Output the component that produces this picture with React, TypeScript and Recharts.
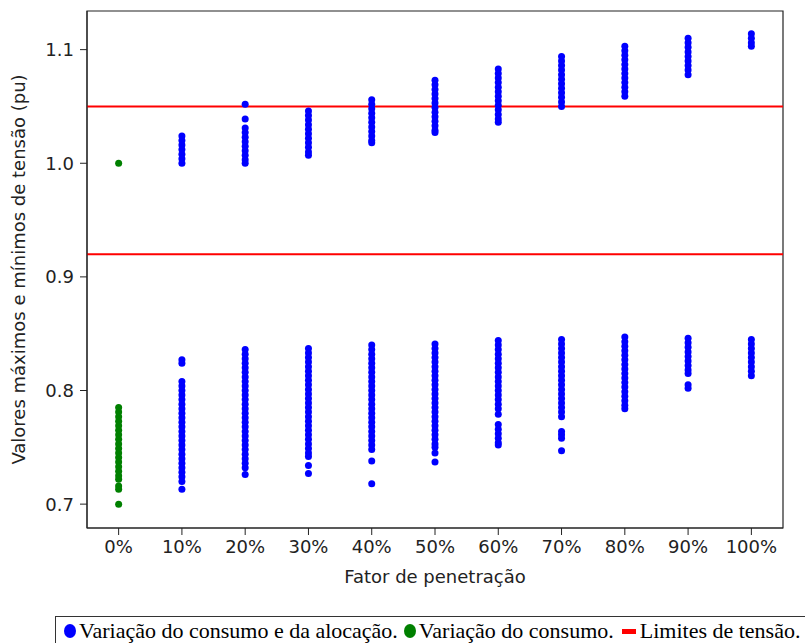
import React from "react";
import { ScatterChart, Scatter, XAxis, YAxis, ReferenceLine, ReferenceArea } from "recharts";

const categories = ["0%", "10%", "20%", "30%", "40%", "50%", "60%", "70%", "80%", "90%", "100%"];
const yTicks = [0.7, 0.8, 0.9, 1.0, 1.1];
const limits = [1.05, 0.92];

// variação do consumo (apenas 0%)
const greenUpper = [1.0];
const greenLower = [
  0.785, 0.781, 0.777, 0.773, 0.769, 0.765, 0.761, 0.757, 0.753, 0.749, 0.745, 0.741,
  0.737, 0.733, 0.729, 0.725, 0.722, 0.716, 0.713, 0.7,
];

// variação do consumo e da alocação, 10% .. 100%
const blueUpper: number[][] = [
  [1.024, 1.02, 1.016, 1.012, 1.008, 1.004, 1.0],
  [1.052, 1.039, 1.031, 1.027, 1.023, 1.019, 1.015, 1.011, 1.007, 1.003, 1.0],
  [1.046, 1.042, 1.038, 1.034, 1.03, 1.026, 1.022, 1.018, 1.014, 1.01, 1.007],
  [1.056, 1.052, 1.048, 1.044, 1.04, 1.036, 1.032, 1.028, 1.024, 1.02, 1.018],
  [1.073, 1.069, 1.065, 1.061, 1.057, 1.053, 1.049, 1.045, 1.041, 1.037, 1.033, 1.029, 1.027],
  [1.083, 1.079, 1.075, 1.071, 1.067, 1.063, 1.059, 1.055, 1.051, 1.047, 1.043, 1.039, 1.036],
  [1.094, 1.09, 1.086, 1.082, 1.078, 1.074, 1.07, 1.066, 1.062, 1.058, 1.054, 1.05],
  [1.103, 1.099, 1.095, 1.091, 1.087, 1.083, 1.079, 1.075, 1.071, 1.067, 1.063, 1.059],
  [1.11, 1.106, 1.102, 1.098, 1.094, 1.09, 1.086, 1.082, 1.078],
  [1.114, 1.11, 1.106, 1.103],
];

const blueLower: number[][] = [
  [0.827, 0.824, 0.808, 0.804, 0.8, 0.796, 0.792, 0.788, 0.784, 0.78, 0.776, 0.772, 0.768, 0.764,
    0.76, 0.756, 0.752, 0.748, 0.744, 0.74, 0.736, 0.732, 0.728, 0.724, 0.72, 0.713],
  [0.836, 0.832, 0.828, 0.824, 0.82, 0.816, 0.812, 0.808, 0.804, 0.8, 0.796, 0.792, 0.788, 0.784,
    0.78, 0.776, 0.772, 0.768, 0.764, 0.76, 0.756, 0.752, 0.748, 0.744, 0.74, 0.736, 0.732, 0.726],
  [0.837, 0.833, 0.829, 0.825, 0.821, 0.817, 0.813, 0.809, 0.805, 0.801, 0.797, 0.793, 0.789, 0.785,
    0.781, 0.777, 0.773, 0.769, 0.765, 0.761, 0.757, 0.753, 0.749, 0.745, 0.742, 0.734, 0.727],
  [0.84, 0.836, 0.832, 0.828, 0.824, 0.82, 0.816, 0.812, 0.808, 0.804, 0.8, 0.796, 0.792, 0.788,
    0.784, 0.78, 0.776, 0.772, 0.768, 0.764, 0.76, 0.756, 0.752, 0.748, 0.738, 0.718],
  [0.841, 0.837, 0.833, 0.829, 0.825, 0.821, 0.817, 0.813, 0.809, 0.805, 0.801, 0.797, 0.793, 0.789,
    0.785, 0.781, 0.777, 0.773, 0.769, 0.765, 0.761, 0.757, 0.753, 0.75, 0.745, 0.737],
  [0.844, 0.84, 0.836, 0.832, 0.828, 0.824, 0.82, 0.816, 0.812, 0.808, 0.804, 0.8, 0.796, 0.792,
    0.788, 0.784, 0.779, 0.77, 0.766, 0.762, 0.758, 0.754, 0.752],
  [0.845, 0.841, 0.837, 0.833, 0.829, 0.825, 0.821, 0.817, 0.813, 0.809, 0.805, 0.801, 0.797, 0.793,
    0.789, 0.785, 0.781, 0.777, 0.764, 0.761, 0.758, 0.747],
  [0.847, 0.843, 0.839, 0.835, 0.831, 0.827, 0.823, 0.819, 0.815, 0.811, 0.807, 0.803, 0.799, 0.795,
    0.791, 0.787, 0.784],
  [0.846, 0.842, 0.838, 0.834, 0.83, 0.826, 0.822, 0.818, 0.815, 0.805, 0.802],
  [0.845, 0.841, 0.837, 0.833, 0.829, 0.825, 0.821, 0.817, 0.813],
];

const greenData = [...greenUpper, ...greenLower].map((v) => ({ x: 0, y: v }));
const blueData = [...blueUpper, ...blueLower].flatMap((col, i) =>
  col.map((v) => ({ x: (i % blueUpper.length) + 1, y: v }))
);

const Y_MIN = 0.679;
const Y_MAX = 1.134;
const axisFont = { fontFamily: "DejaVu Sans", fontSize: 18, fill: "#222" };

const dot = (color: string) => (props: any) =>
  <circle cx={props.cx} cy={props.cy} r={3.5} fill={color} />;

export default function App() {
  return (
    <div style={{ position: "absolute", left: 0, top: 0, width: 805, height: 643, background: "#fff" }}>
      <ScatterChart width={805} height={643} margin={{ top: 11, right: 22, bottom: 55, left: 0 }}>
        <XAxis
          type="number"
          dataKey="x"
          domain={[-0.5, 10.5]}
          ticks={categories.map((_, i) => i)}
          tickFormatter={(v) => categories[v]}
          allowDataOverflow
          height={60}
          tickSize={7}
          tickMargin={5}
          tick={axisFont}
          stroke="#222"
          label={{ value: "Fator de penetração", position: "insideBottom", offset: 5, style: axisFont }}
        />
        <YAxis
          type="number"
          dataKey="y"
          domain={[Y_MIN, Y_MAX]}
          ticks={yTicks}
          tickFormatter={(v) => v.toFixed(1)}
          allowDataOverflow
          width={87}
          tickSize={7}
          tickMargin={6}
          tick={axisFont}
          stroke="#222"
          label={{
            value: "Valores máximos e mínimos de tensão (pu)",
            angle: -90,
            position: "insideLeft",
            offset: 19,
            style: { ...axisFont, textAnchor: "middle" },
          }}
        />
        <Scatter data={blueData} fill="#0000ff" shape={dot("#0000ff")} isAnimationActive={false} />
        <Scatter data={greenData} fill="#008000" shape={dot("#008000")} isAnimationActive={false} />
        {limits.map((l) => (
          <ReferenceLine key={l} y={l} stroke="#ff0000" strokeWidth={2} />
        ))}
        <ReferenceArea x1={-0.5} x2={10.5} y1={Y_MIN} y2={Y_MAX} fill="none" stroke="#222" strokeWidth={1.2} />
      </ScatterChart>
      <div
        style={{
          position: "absolute",
          left: 55,
          top: 616,
          width: 780,
          height: 30,
          border: "1px solid #333",
          boxSizing: "border-box",
          fontFamily: "Liberation Serif",
          fontSize: 22,
          color: "#000",
          display: "flex",
          alignItems: "center",
          paddingLeft: 8,
          whiteSpace: "nowrap",
        }}
      >
        <span style={{ display: "inline-block", width: 12, height: 14, borderRadius: "50%", background: "#0000ff", marginRight: 3 }} />
        <span>Variação do consumo e da alocação.</span>
        <span style={{ display: "inline-block", width: 12, height: 14, borderRadius: "50%", background: "#008000", margin: "0 3px 0 6px" }} />
        <span>Variação do consumo.</span>
        <span style={{ display: "inline-block", width: 14, height: 5, background: "#ff0000", margin: "0 4px 0 8px" }} />
        <span>Limites de tensão.</span>
      </div>
    </div>
  );
}
